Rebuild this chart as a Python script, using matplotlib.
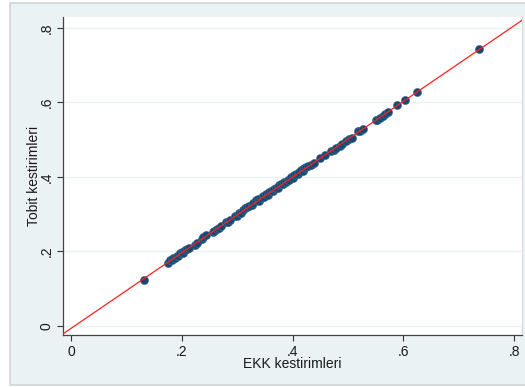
import numpy as np
import matplotlib.pyplot as plt
from matplotlib.patches import Rectangle

# OLS (EKK) and Tobit predictions for each observation
ekk = [0.131,
       0.176, 0.179, 0.182, 0.185, 0.188, 0.191, 0.194, 0.197, 0.200, 0.203, 0.206, 0.209, 0.213,
       0.224, 0.228, 0.236, 0.239, 0.243,
       0.256, 0.259, 0.263, 0.267, 0.271, 0.279, 0.283, 0.287,
       0.297, 0.300, 0.303, 0.307, 0.311, 0.314, 0.318, 0.322, 0.326, 0.329,
       0.334, 0.337, 0.340, 0.343, 0.346, 0.349, 0.352, 0.355, 0.358, 0.361,
       0.364, 0.367, 0.370, 0.373, 0.376, 0.379, 0.382, 0.385, 0.388, 0.391,
       0.394, 0.397, 0.400, 0.403, 0.406, 0.409, 0.412, 0.415, 0.418, 0.421,
       0.424, 0.428, 0.434, 0.438, 0.449, 0.458,
       0.470, 0.474, 0.478, 0.485, 0.490, 0.496, 0.502, 0.508,
       0.518, 0.522, 0.528, 0.550, 0.553, 0.558, 0.563, 0.567, 0.572,
       0.589, 0.603, 0.624, 0.737]

tobit = [0.124,
         0.170, 0.176, 0.177, 0.183, 0.182, 0.188, 0.187, 0.195, 0.198, 0.197, 0.203, 0.207, 0.208,
         0.218, 0.222, 0.234, 0.240, 0.244,
         0.251, 0.254, 0.259, 0.262, 0.267, 0.278, 0.279, 0.284,
         0.296, 0.294, 0.303, 0.302, 0.311, 0.317, 0.318, 0.321, 0.324, 0.329,
         0.337, 0.341, 0.336, 0.343, 0.348, 0.346, 0.353, 0.352, 0.359, 0.362,
         0.361, 0.368, 0.371, 0.370, 0.377, 0.381, 0.380, 0.387, 0.386, 0.393,
         0.392, 0.399, 0.398, 0.405, 0.408, 0.407, 0.414, 0.418, 0.416, 0.425,
         0.427, 0.428, 0.432, 0.436, 0.451, 0.459,
         0.470, 0.473, 0.478, 0.483, 0.489, 0.496, 0.501, 0.505,
         0.522, 0.523, 0.529, 0.552, 0.554, 0.557, 0.563, 0.568, 0.573,
         0.593, 0.605, 0.627, 0.743]

ticks = [0, 0.2, 0.4, 0.6, 0.8]
tick_labels = ['0', '.2', '.4', '.6', '.8']

plt.rcParams['font.family'] = ['Liberation Sans', 'DejaVu Sans']

fig = plt.figure(figsize=(5.25, 3.87), dpi=100)
fig.patch.set_facecolor('white')

# graph region (light blue-grey box behind the plot)
region = Rectangle((10 / 525, 1 - 385 / 387), 1.0, 382 / 387,
                   transform=fig.transFigure, facecolor='#eaf2f3',
                   edgecolor='#cfd6d8', linewidth=1.2, zorder=-10)
fig.add_artist(region)

ax = fig.add_axes([63 / 525, 1 - 335 / 387, 459 / 525, 318 / 387])
ax.set_zorder(1)
ax.set_facecolor('white')

xlim = (-0.0144, 0.8142)
ax.set_xlim(xlim)
ax.set_ylim(-0.0241, 0.829)

ax.set_yticks(ticks)
ax.set_yticklabels(tick_labels, rotation=90, va='center')
ax.set_xticks(ticks)
ax.set_xticklabels(tick_labels)
ax.tick_params(axis='both', length=4, width=0.8, color='#333333', labelsize=10,
               labelcolor='#1a1a1a', pad=3)
ax.yaxis.grid(True, color='#eaf2f3', linewidth=1.0)
ax.set_axisbelow(True)

ax.spines['top'].set_visible(False)
ax.spines['right'].set_color('#d5dadb')
ax.spines['left'].set_color('#444444')
ax.spines['bottom'].set_color('#444444')
ax.spines['left'].set_linewidth(0.9)
ax.spines['bottom'].set_linewidth(0.9)

ax.scatter(ekk, tobit, s=34, color='#1a476f', edgecolors='#3a6a90', linewidths=0.4, zorder=3)

# linear fit drawn across the full x range
slope, intercept = np.polyfit(ekk, tobit, 1)
xs = np.array(xlim)
ax.plot(xs, slope * xs + intercept, color='#ff2020', linewidth=0.9, zorder=4)

ax.set_xlabel('EKK kestirimleri', fontsize=10, color='#1a1a1a', labelpad=-1)
ax.set_ylabel('Tobit kestirimleri', fontsize=10, color='#1a1a1a', labelpad=-1)

fig.savefig('out.png', dpi=100)
